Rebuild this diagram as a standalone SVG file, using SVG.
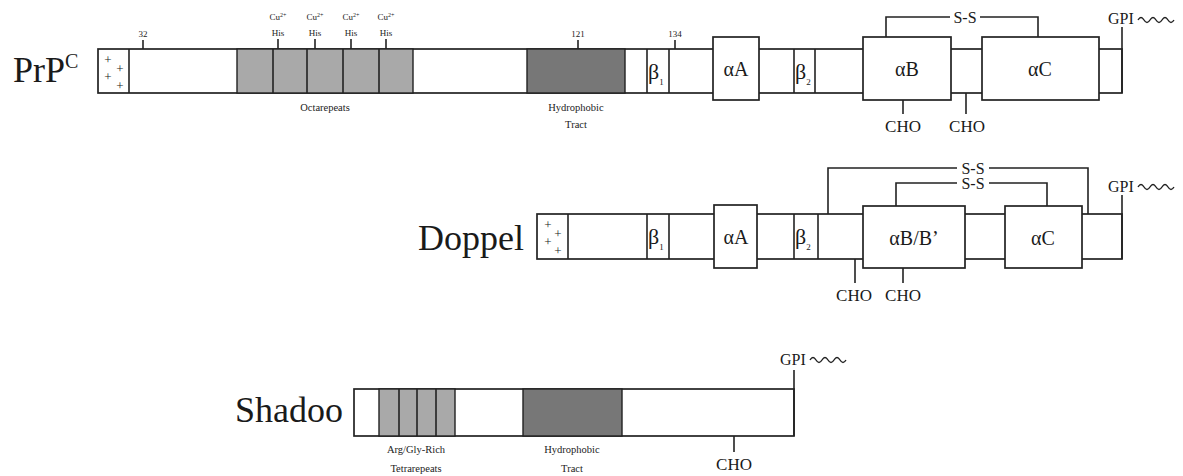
<svg xmlns="http://www.w3.org/2000/svg" width="1183" height="476" viewBox="0 0 1183 476" font-family="'Liberation Serif', 'Times New Roman', serif">
<defs>
<style>
text{font-family:"Liberation Serif","Times New Roman",serif;fill:#1a1a1a}
.name{font-size:36px}
.dom{font-size:20px;text-anchor:middle}
.beta{font-size:22px}
.sub{font-size:9px}
.lbl{font-size:10.5px;text-anchor:middle;fill:#222}
.tiny{font-size:9px;text-anchor:middle;fill:#222}
.cho{font-size:17px;text-anchor:middle}
.ss{font-size:16px;text-anchor:middle}
.gpi{font-size:16px}
.bar{fill:#fff;stroke:#222;stroke-width:1.7}
.box{fill:#fff;stroke:#222;stroke-width:1.7}
.oct{fill:#a9a9a9;stroke:#222;stroke-width:1.4}
.hyd{fill:#777;stroke:#222;stroke-width:1.4}
.ln{stroke:#222;stroke-width:1.6;fill:none}
.plus{font-size:13px;text-anchor:middle;fill:#222}
</style>
<path id="wave" d="M0,0 q3,-5 6,0 q3,5 6,0 q3,-5 6,0 q3,5 6,0 q3,-5 6,0 q3,5 6,0" fill="none" stroke="#222" stroke-width="1.4"/>
</defs>
<rect width="1183" height="476" fill="#fff"/>

<!-- PrPC -->
<g id="prpc">
<text class="name" x="13" y="82">PrP<tspan font-size="20" dy="-14">C</tspan></text>
<rect class="bar" x="98" y="49" width="1024" height="44"/>
<line class="ln" x1="129" y1="49" x2="129" y2="93"/>
<text class="plus" x="108" y="64">+</text><text class="plus" x="120" y="73">+</text>
<text class="plus" x="108" y="81">+</text><text class="plus" x="120" y="90">+</text>
<rect class="oct" x="237" y="49" width="176" height="44"/>
<line class="ln" x1="273" y1="49" x2="273" y2="93"/>
<line class="ln" x1="307" y1="49" x2="307" y2="93"/>
<line class="ln" x1="343" y1="49" x2="343" y2="93"/>
<line class="ln" x1="379" y1="49" x2="379" y2="93"/>
<rect class="hyd" x="527" y="49" width="98" height="44"/>
<line class="ln" x1="647" y1="49" x2="647" y2="93"/>
<line class="ln" x1="669" y1="49" x2="669" y2="93"/>
<text class="beta" x="648" y="79">β<tspan class="sub" dy="6">1</tspan></text>
<rect class="box" x="713" y="37" width="46" height="63"/>
<text class="dom" x="736" y="76">αA</text>
<line class="ln" x1="794" y1="49" x2="794" y2="93"/>
<line class="ln" x1="815" y1="49" x2="815" y2="93"/>
<text class="beta" x="795" y="79">β<tspan class="sub" dy="6">2</tspan></text>
<rect class="box" x="863" y="37" width="88" height="63"/>
<text class="dom" x="907" y="76">αB</text>
<rect class="box" x="982" y="37" width="117" height="63"/>
<text class="dom" x="1040" y="76">αC</text>
<!-- ticks -->
<line class="ln" x1="143" y1="40" x2="143" y2="49"/>
<text class="tiny" x="143" y="37">32</text>
<line class="ln" x1="278" y1="39" x2="278" y2="49"/>
<line class="ln" x1="315" y1="39" x2="315" y2="49"/>
<line class="ln" x1="351" y1="39" x2="351" y2="49"/>
<line class="ln" x1="386" y1="39" x2="386" y2="49"/>
<text class="tiny" x="278" y="20">Cu<tspan font-size="6" dy="-3">2+</tspan></text>
<text class="tiny" x="315" y="20">Cu<tspan font-size="6" dy="-3">2+</tspan></text>
<text class="tiny" x="351" y="20">Cu<tspan font-size="6" dy="-3">2+</tspan></text>
<text class="tiny" x="386" y="20">Cu<tspan font-size="6" dy="-3">2+</tspan></text>
<text class="tiny" x="278" y="36">His</text>
<text class="tiny" x="315" y="36">His</text>
<text class="tiny" x="351" y="36">His</text>
<text class="tiny" x="386" y="36">His</text>
<line class="ln" x1="578" y1="40" x2="578" y2="49"/>
<text class="tiny" x="578" y="37">121</text>
<line class="ln" x1="675" y1="40" x2="675" y2="49"/>
<text class="tiny" x="675" y="37">134</text>
<text class="lbl" x="325" y="111">Octarepeats</text>
<text class="lbl" x="576" y="111">Hydrophobic</text>
<text class="lbl" x="576" y="128">Tract</text>
<!-- S-S, CHO, GPI -->
<polyline class="ln" points="886,37 886,17 950,17"/>
<polyline class="ln" points="980,17 1038,17 1038,37"/>
<text class="ss" x="965" y="23">S-S</text>
<line class="ln" x1="903" y1="100" x2="903" y2="114"/>
<text class="cho" x="903" y="132">CHO</text>
<line class="ln" x1="966" y1="93" x2="966" y2="114"/>
<text class="cho" x="967" y="132">CHO</text>
<line class="ln" x1="1122" y1="27" x2="1122" y2="93"/>
<text class="gpi" x="1108" y="24">GPI</text>
<use href="#wave" x="1138" y="20"/>
</g>

<!-- Doppel -->
<g id="doppel">
<text class="name" x="418" y="250">Doppel</text>
<rect class="bar" x="537" y="214" width="585" height="45"/>
<line class="ln" x1="568" y1="214" x2="568" y2="259"/>
<text class="plus" x="548" y="229">+</text><text class="plus" x="558" y="238">+</text>
<text class="plus" x="548" y="246">+</text><text class="plus" x="558" y="255">+</text>
<line class="ln" x1="647" y1="214" x2="647" y2="259"/>
<line class="ln" x1="669" y1="214" x2="669" y2="259"/>
<text class="beta" x="648" y="244">β<tspan class="sub" dy="6">1</tspan></text>
<rect class="box" x="714" y="205" width="43" height="63"/>
<text class="dom" x="736" y="244">αA</text>
<line class="ln" x1="794" y1="214" x2="794" y2="259"/>
<line class="ln" x1="818" y1="214" x2="818" y2="259"/>
<text class="beta" x="795" y="244">β<tspan class="sub" dy="6">2</tspan></text>
<rect class="box" x="863" y="206" width="102" height="62"/>
<text class="dom" x="914" y="245">αB/B’</text>
<rect class="box" x="1005" y="206" width="77" height="62"/>
<text class="dom" x="1043" y="245">αC</text>
<polyline class="ln" points="828,214 828,168 957,168"/>
<polyline class="ln" points="989,168 1088,168 1088,214"/>
<text class="ss" x="973" y="174">S-S</text>
<polyline class="ln" points="896,206 896,183 957,183"/>
<polyline class="ln" points="989,183 1047,183 1047,206"/>
<text class="ss" x="973" y="189">S-S</text>
<line class="ln" x1="855" y1="259" x2="855" y2="283"/>
<text class="cho" x="854" y="301">CHO</text>
<line class="ln" x1="903" y1="268" x2="903" y2="283"/>
<text class="cho" x="903" y="301">CHO</text>
<line class="ln" x1="1122" y1="195" x2="1122" y2="259"/>
<text class="gpi" x="1108" y="192">GPI</text>
<use href="#wave" x="1138" y="187"/>
</g>

<!-- Shadoo -->
<g id="shadoo">
<text class="name" x="235" y="422">Shadoo</text>
<rect class="bar" x="354" y="389" width="440" height="47"/>
<rect class="oct" x="379" y="389" width="76" height="47"/>
<line class="ln" x1="399" y1="389" x2="399" y2="436"/>
<line class="ln" x1="417" y1="389" x2="417" y2="436"/>
<line class="ln" x1="436" y1="389" x2="436" y2="436"/>
<rect class="hyd" x="523" y="389" width="99" height="47"/>
<text class="lbl" x="416" y="453">Arg/Gly-Rich</text>
<text class="lbl" x="416" y="472">Tetrarepeats</text>
<text class="lbl" x="572" y="453">Hydrophobic</text>
<text class="lbl" x="572" y="472">Tract</text>
<line class="ln" x1="734" y1="436" x2="734" y2="452"/>
<text class="cho" x="734" y="470">CHO</text>
<line class="ln" x1="794" y1="370" x2="794" y2="436"/>
<text class="gpi" x="780" y="365">GPI</text>
<use href="#wave" x="810" y="360"/>
</g>
</svg>
